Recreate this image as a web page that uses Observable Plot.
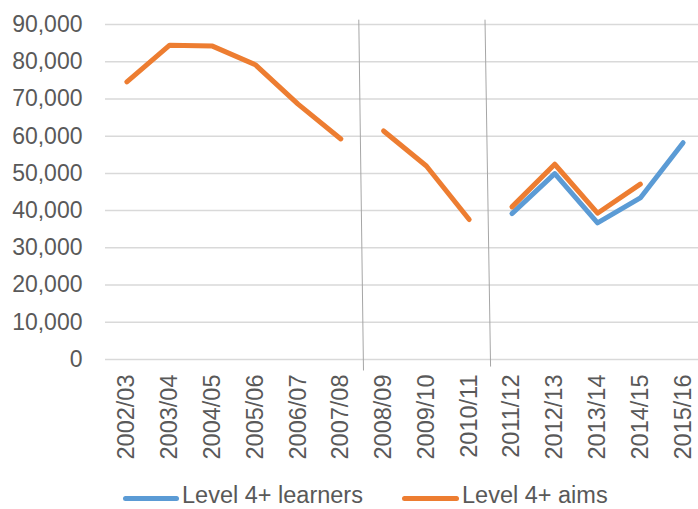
<!DOCTYPE html>
<html><head><meta charset="utf-8">
<script src="https://cdn.jsdelivr.net/npm/d3@7"></script>
<script src="https://cdn.jsdelivr.net/npm/@observablehq/plot@0.6"></script>
<style>
body{margin:0;background:#fff;font-family:"Liberation Sans",Arial,sans-serif;}
#chart svg{display:block;font-family:"Liberation Sans",Arial,sans-serif;}
#legend{position:relative;width:698px;height:31px;color:#595959;font-size:23.5px;}
#legend .sw{position:absolute;height:5px;border-radius:3px;top:18px;}
#legend .tx{position:absolute;top:3px;height:28px;line-height:28px;white-space:nowrap;}
</style></head><body><div id="chart"></div><div id="legend"></div>
<script>
const years = ["2002/03","2003/04","2004/05","2005/06","2006/07","2007/08","2008/09","2009/10","2010/11","2011/12","2012/13","2013/14","2014/15","2015/16"];
const aims = [74600, 84450, 84200, 79200, 68600, 59250, 61400, 52000, 37600, 41000, 52450, 39300, 47100, null];
const learners = [null, null, null, null, null, null, null, null, null, 39200, 49950, 36700, 43400, 58250];
const aimsPeriod = [1,1,1,1,1,1,2,2,2,3,3,3,3,3];
const yTicks = [0,10000,20000,30000,40000,50000,60000,70000,80000,90000];
const seriesNames = ["Level 4+ learners","Level 4+ aims"];
const seriesColors = ["#5B9BD5","#ED7D31"];
// separators (x in category index units, y in data units)
const sepXTop = [5.42, 8.37];
const sepXBottom = [5.53, 8.50];
const sepYTop = [91300, 91300];
const sepYBottom = [-2950, -1900];

const rows = years.map((year, i) => ({i, year, aims: aims[i], learners: learners[i], period: aimsPeriod[i]}));
const seps = sepXTop.map((x, k) => ({x1: x, x2: sepXBottom[k], y1: sepYTop[k], y2: sepYBottom[k]}));

const chart = Plot.plot({
  width: 698, height: 478,
  marginLeft: 105, marginRight: -6, marginTop: 24, marginBottom: 119,
  style: {background: "#fff", overflow: "visible"},
  x: {type: "linear", domain: [-0.5, 13.5], axis: null},
  y: {domain: [0, 90000], axis: null},
  marks: [
    Plot.ruleY(yTicks, {stroke: "#d9d9d9", strokeWidth: 1.5}),
    Plot.link(seps, {x1: "x1", x2: "x2", y1: "y1", y2: "y2", stroke: "#a6a6a6", strokeWidth: 1}),
    Plot.axisY(yTicks, {tickSize: 0, tickPadding: 23, tickFormat: d3.format(","), fontSize: 23, fill: "#595959"}),
    Plot.axisX(d3.range(years.length), {tickSize: 0, tickPadding: 15, tickRotate: -90, tickFormat: i => years[i], fontSize: 23.5, fill: "#595959"}),
    Plot.line(rows.filter(d => d.learners != null), {x: "i", y: "learners", stroke: seriesColors[0], strokeWidth: 5, strokeLinecap: "round", strokeLinejoin: "round"}),
    Plot.line(rows.filter(d => d.aims != null), {x: "i", y: "aims", z: "period", stroke: seriesColors[1], strokeWidth: 5, strokeLinecap: "round", strokeLinejoin: "round"})
  ]
});
document.getElementById("chart").append(chart);

const legend = document.getElementById("legend");
const legendPos = [{sw: 123, swW: 56, tx: 182}, {sw: 402, swW: 57, tx: 462}];
seriesNames.forEach((name, k) => {
  const s = document.createElement("div");
  s.className = "sw"; s.style.left = legendPos[k].sw + "px"; s.style.width = legendPos[k].swW + "px"; s.style.background = seriesColors[k];
  const t = document.createElement("div");
  t.className = "tx"; t.style.left = legendPos[k].tx + "px"; t.textContent = name;
  legend.append(s, t);
});
</script></body></html>
